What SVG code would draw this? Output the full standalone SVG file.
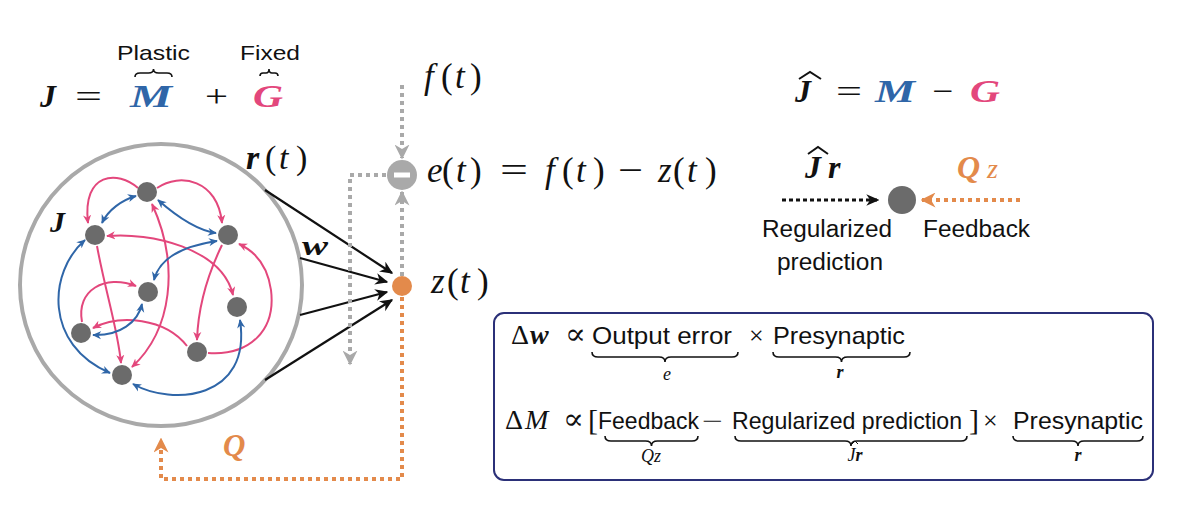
<svg xmlns="http://www.w3.org/2000/svg" width="1200" height="508" viewBox="0 0 1200 508">
<style>
.m{font-family:"Liberation Serif","DejaVu Serif",serif;font-style:italic}
.mb{font-family:"Liberation Serif","DejaVu Serif",serif;font-style:italic;font-weight:bold}
.up{font-family:"Liberation Serif","DejaVu Serif",serif}
.s{font-family:"Liberation Sans",Arial,sans-serif;fill:#111}
.pk{fill:none;stroke:#e3477c;stroke-width:2}
.bl{fill:none;stroke:#2f66a8;stroke-width:2}
.nd{fill:#6b6b6b}
.br{fill:none;stroke:#111;stroke-width:1.6}
.gd{fill:none;stroke:#a9a9a9;stroke-width:4;stroke-dasharray:4 4}
.od{fill:none;stroke:#e38a4b;stroke-width:4;stroke-dasharray:4 4}
.blk{stroke:#111;stroke-width:2.2;fill:none}
</style>
<defs>
<marker id="ap" viewBox="0 0 10 10" refX="9" refY="5" markerWidth="9" markerHeight="9" markerUnits="userSpaceOnUse" orient="auto-start-reverse"><path d="M0,0.5 L10,5 L0,9.5 L3,5z" fill="#e3477c"/></marker>
<marker id="ab" viewBox="0 0 10 10" refX="9" refY="5" markerWidth="9" markerHeight="9" markerUnits="userSpaceOnUse" orient="auto-start-reverse"><path d="M0,0.5 L10,5 L0,9.5 L3,5z" fill="#2f66a8"/></marker>
<marker id="ak" viewBox="0 0 10 10" refX="9" refY="5" markerWidth="13" markerHeight="13" markerUnits="userSpaceOnUse" orient="auto"><path d="M0,0.5 L10,5 L0,9.5 L3,5z" fill="#111"/></marker>
<marker id="ag" viewBox="0 0 10 10" refX="9" refY="5" markerWidth="15" markerHeight="15" markerUnits="userSpaceOnUse" orient="auto"><path d="M0,0 L10,5 L0,10 L3,5z" fill="#a9a9a9"/></marker>
<marker id="ao" viewBox="0 0 10 10" refX="9" refY="5" markerWidth="15" markerHeight="15" markerUnits="userSpaceOnUse" orient="auto"><path d="M0,0 L10,5 L0,10 L3,5z" fill="#e38a4b"/></marker>
</defs>

<g id="formula-J">
<text class="s" x="117" y="60" font-size="21" textLength="73" lengthAdjust="spacingAndGlyphs">Plastic</text>
<text class="s" x="240" y="60" font-size="21" textLength="60" lengthAdjust="spacingAndGlyphs">Fixed</text>
<path class="br" d="M135,77 q0,-4 5,-4 H148.5 q5,0 5,-4 q0,4 5,4 H167 q5,0 5,4"/>
<path class="br" d="M260,76 q0,-3 3,-3 H266 q3,0 3,-4 q0,4 3,4 H275 q3,0 3,3"/>
<text class="mb" x="40" y="107" font-size="32" fill="#111">J</text>
<text class="up" x="75" y="107" font-size="32" fill="#111" textLength="27" lengthAdjust="spacingAndGlyphs">=</text>
<text class="mb" x="130" y="107" font-size="32" fill="#2f66a8" textLength="42" lengthAdjust="spacingAndGlyphs">M</text>
<text class="up" x="205" y="107" font-size="32" fill="#111" textLength="23" lengthAdjust="spacingAndGlyphs">+</text>
<text class="mb" x="253" y="107" font-size="32" fill="#e3477c" textLength="30" lengthAdjust="spacingAndGlyphs">G</text>
</g>

<g id="network">
<circle cx="161" cy="285" r="141" fill="none" stroke="#a9a9a9" stroke-width="4"/>
<text class="mb" x="50" y="232" font-size="30" fill="#111">J</text>
</g>

<g id="connectors">
<path class="pk" d="M138,188 C118,170 82,172 88,223" marker-end="url(#ap)"/>
<path class="pk" d="M157,188 C180,172 218,180 222,223" marker-end="url(#ap)"/>
<path class="pk" d="M107,236 C150,232 222,248 233,295" marker-start="url(#ap)" marker-end="url(#ap)"/>
<path class="pk" d="M97,246 C105,290 118,330 121,363" marker-end="url(#ap)"/>
<path class="pk" d="M152,204 C180,265 172,330 132,367" marker-start="url(#ap)" marker-end="url(#ap)"/>
<path class="pk" d="M222,245 C205,280 198,310 197,340" marker-end="url(#ap)"/>
<path class="pk" d="M208,353 C250,356 276,330 271,290 C267,262 252,250 239,244" marker-end="url(#ap)"/>
<path class="pk" d="M82,322 C76,290 105,274 136,286" marker-end="url(#ap)"/>
<path class="pk" d="M187,346 C165,318 120,314 93,328" marker-end="url(#ap)"/>
<path class="bl" d="M136,196 C122,200 108,210 102,223" marker-start="url(#ab)" marker-end="url(#ab)"/>
<path class="bl" d="M158,200 C175,215 195,230 216,233" marker-start="url(#ab)" marker-end="url(#ab)"/>
<path class="bl" d="M217,241 C190,245 160,255 154,280" marker-start="url(#ab)" marker-end="url(#ab)"/>
<path class="bl" d="M85,240 C48,272 44,345 110,373" marker-start="url(#ab)" marker-end="url(#ab)"/>
<path class="bl" d="M93,335 C120,336 138,322 142,304" marker-start="url(#ab)" marker-end="url(#ab)"/>
<path class="bl" d="M133,384 C172,406 252,400 240,320" marker-start="url(#ab)" marker-end="url(#ab)"/>
<line class="blk" x1="265" y1="190" x2="392" y2="273" marker-end="url(#ak)"/>
<line class="blk" x1="300" y1="258" x2="387" y2="282" marker-end="url(#ak)"/>
<line class="blk" x1="300" y1="315" x2="387" y2="292" marker-end="url(#ak)"/>
<line class="blk" x1="265" y1="380" x2="392" y2="300" marker-end="url(#ak)"/>
<path class="gd" d="M402,85 V158" marker-end="url(#ag)"/>
<path class="gd" d="M402,276 V192" marker-end="url(#ag)"/>
<path class="gd" d="M386,175 H350 V364" marker-end="url(#ag)"/>
<path class="od" d="M402,297 V479 H161 V439" marker-end="url(#ao)"/>
<path d="M782,200 H878" fill="none" stroke="#111" stroke-width="3" stroke-dasharray="4 3" marker-end="url(#ak)"/>
<path class="od" d="M1020,200 H922" stroke-width="3" marker-end="url(#ao)"/>
</g>

<g id="nodes">
<circle id="n1" class="nd" cx="147" cy="192" r="10"/>
<circle id="n2" class="nd" cx="95" cy="235" r="10"/>
<circle id="n3" class="nd" cx="228" cy="235" r="10"/>
<circle id="n4" class="nd" cx="148" cy="292" r="10"/>
<circle id="n5" class="nd" cx="237" cy="307" r="10"/>
<circle id="n6" class="nd" cx="81" cy="333" r="10"/>
<circle id="n7" class="nd" cx="197" cy="352" r="10"/>
<circle id="n8" class="nd" cx="122" cy="375" r="10"/>
</g>

<g id="labels">
<text x="246 265 279 296" y="169" font-size="34" fill="#111"><tspan class="mb">r</tspan><tspan class="up">(</tspan><tspan class="m">t</tspan><tspan class="up">)</tspan></text>
<text class="mb" x="302" y="255" font-size="27" fill="#111" textLength="26" lengthAdjust="spacingAndGlyphs">w</text>
<text class="mb" x="223" y="456" font-size="31" fill="#e38a4b">Q</text>
</g>

<g id="output-node">
<circle cx="402" cy="286" r="10" fill="#e38a4b"/>
<text x="431 447 460 477" y="293" font-size="35" fill="#111"><tspan class="m">z</tspan><tspan class="up">(</tspan><tspan class="m">t</tspan><tspan class="up">)</tspan></text>
</g>

<g id="error-node">
<circle cx="402" cy="175" r="15" fill="#a9a9a9"/>
<rect x="394" y="172.5" width="16" height="5" fill="#fff"/>
<text x="427 442 456 470" y="182" font-size="35" fill="#111"><tspan class="m">e</tspan><tspan class="up">(</tspan><tspan class="m">t</tspan><tspan class="up">)</tspan></text>
<text class="up" x="500" y="182" font-size="35" fill="#111" textLength="28" lengthAdjust="spacingAndGlyphs">=</text>
<text x="545 562 576 593" y="182" font-size="35" fill="#111"><tspan class="m">f</tspan><tspan class="up">(</tspan><tspan class="m">t</tspan><tspan class="up">)</tspan></text>
<text class="up" x="618" y="182" font-size="35" fill="#111" textLength="25" lengthAdjust="spacingAndGlyphs">−</text>
<text x="658 673 687 705" y="182" font-size="35" fill="#111"><tspan class="m">z</tspan><tspan class="up">(</tspan><tspan class="m">t</tspan><tspan class="up">)</tspan></text>
</g>

<g id="target">
<text x="424 441 455 470" y="88" font-size="35" fill="#111"><tspan class="m">f</tspan><tspan class="up">(</tspan><tspan class="m">t</tspan><tspan class="up">)</tspan></text>
</g>

<g id="formula-Jhat">
<path d="M799,79 L810,72 L821,79" fill="none" stroke="#111" stroke-width="2"/>
<text class="mb" x="795" y="102" font-size="32" fill="#111">J</text>
<text class="up" x="836" y="102" font-size="32" fill="#111" textLength="26" lengthAdjust="spacingAndGlyphs">=</text>
<text class="mb" x="875" y="102" font-size="32" fill="#2f66a8" textLength="40" lengthAdjust="spacingAndGlyphs">M</text>
<text class="up" x="932" y="102" font-size="32" fill="#111" textLength="21" lengthAdjust="spacingAndGlyphs">−</text>
<text class="mb" x="970" y="102" font-size="32" fill="#e3477c" textLength="30" lengthAdjust="spacingAndGlyphs">G</text>
</g>

<g id="legend-node">
<path d="M808,154 L818,147 L828,154" fill="none" stroke="#111" stroke-width="2"/>
<text x="805 828" y="178" font-size="32" fill="#111"><tspan class="mb">J</tspan><tspan class="mb">r</tspan></text>
<text x="957 987" y="178" font-size="32" fill="#e38a4b"><tspan class="mb">Q</tspan><tspan class="m" font-size="28">z</tspan></text>
<circle cx="902" cy="200" r="14" fill="#6b6b6b"/>
<text class="s" x="762" y="237" font-size="23" textLength="130" lengthAdjust="spacingAndGlyphs">Regularized</text>
<text class="s" x="777" y="270" font-size="23" textLength="106" lengthAdjust="spacingAndGlyphs">prediction</text>
<text class="s" x="923" y="237" font-size="23" textLength="107" lengthAdjust="spacingAndGlyphs">Feedback</text>
</g>

<g id="rules-box">
<rect x="494" y="313" width="659" height="167" rx="10" fill="#fff" stroke="#2b3078" stroke-width="2"/>
<text x="511 530" y="344" font-size="28" fill="#111"><tspan class="up">Δ</tspan><tspan class="mb">w</tspan></text>
<text class="up" x="565" y="344" font-size="30" fill="#111" textLength="21" lengthAdjust="spacingAndGlyphs">∝</text>
<text class="s" x="592" y="344" font-size="24" textLength="140" lengthAdjust="spacingAndGlyphs">Output error</text>
<text class="up" x="749" y="344" font-size="26" fill="#111">×</text>
<text class="s" x="773" y="344" font-size="24" textLength="132" lengthAdjust="spacingAndGlyphs">Presynaptic</text>
<path class="br" d="M592,352 q0,5 6,5 H659 q6,0 6,5 q0,-5 6,-5 H732 q6,0 6,-5"/>
<path class="br" d="M773,352 q0,5 6,5 H835.5 q6,0 6,5 q0,-5 6,-5 H904 q6,0 6,-5"/>
<text class="m" x="667" y="380" font-size="18" fill="#111" text-anchor="middle">e</text>
<text class="mb" x="840" y="378" font-size="18" fill="#111" text-anchor="middle">r</text>
<text x="505 525" y="429" font-size="28" fill="#111"><tspan class="up">Δ</tspan><tspan class="m">M</tspan></text>
<text class="up" x="563" y="429" font-size="30" fill="#111" textLength="21" lengthAdjust="spacingAndGlyphs">∝</text>
<text class="up" x="588" y="430" font-size="30" fill="#111">[</text>
<text class="s" x="598" y="429" font-size="24" textLength="101" lengthAdjust="spacingAndGlyphs">Feedback</text>
<text class="up" x="702" y="429" font-size="24" fill="#111" textLength="21" lengthAdjust="spacingAndGlyphs">−</text>
<text class="s" x="732" y="429" font-size="24" textLength="230" lengthAdjust="spacingAndGlyphs">Regularized prediction</text>
<text class="up" x="969" y="430" font-size="30" fill="#111">]</text>
<text class="up" x="983" y="429" font-size="26" fill="#111">×</text>
<text class="s" x="1013" y="429" font-size="24" textLength="130" lengthAdjust="spacingAndGlyphs">Presynaptic</text>
<path class="br" d="M605,436 q0,5 6,5 H645.5 q6,0 6,5 q0,-5 6,-5 H692 q6,0 6,-5"/>
<path class="br" d="M735,436 q0,5 6,5 H845 q6,0 6,5 q0,-5 6,-5 H961 q6,0 6,-5"/>
<path class="br" d="M1013,436 q0,5 6,5 H1072 q6,0 6,5 q0,-5 6,-5 H1137 q6,0 6,-5"/>
<text x="651" y="462" font-size="18" fill="#111" text-anchor="middle"><tspan class="m">Q</tspan><tspan class="m">z</tspan></text>
<path d="M852,444 L855,441 L858,444" fill="none" stroke="#111" stroke-width="1"/>
<text x="855" y="461" font-size="18" fill="#111" text-anchor="middle"><tspan class="m">J</tspan><tspan class="mb">r</tspan></text>
<text class="mb" x="1078" y="461" font-size="18" fill="#111" text-anchor="middle">r</text>
</g>
</svg>
